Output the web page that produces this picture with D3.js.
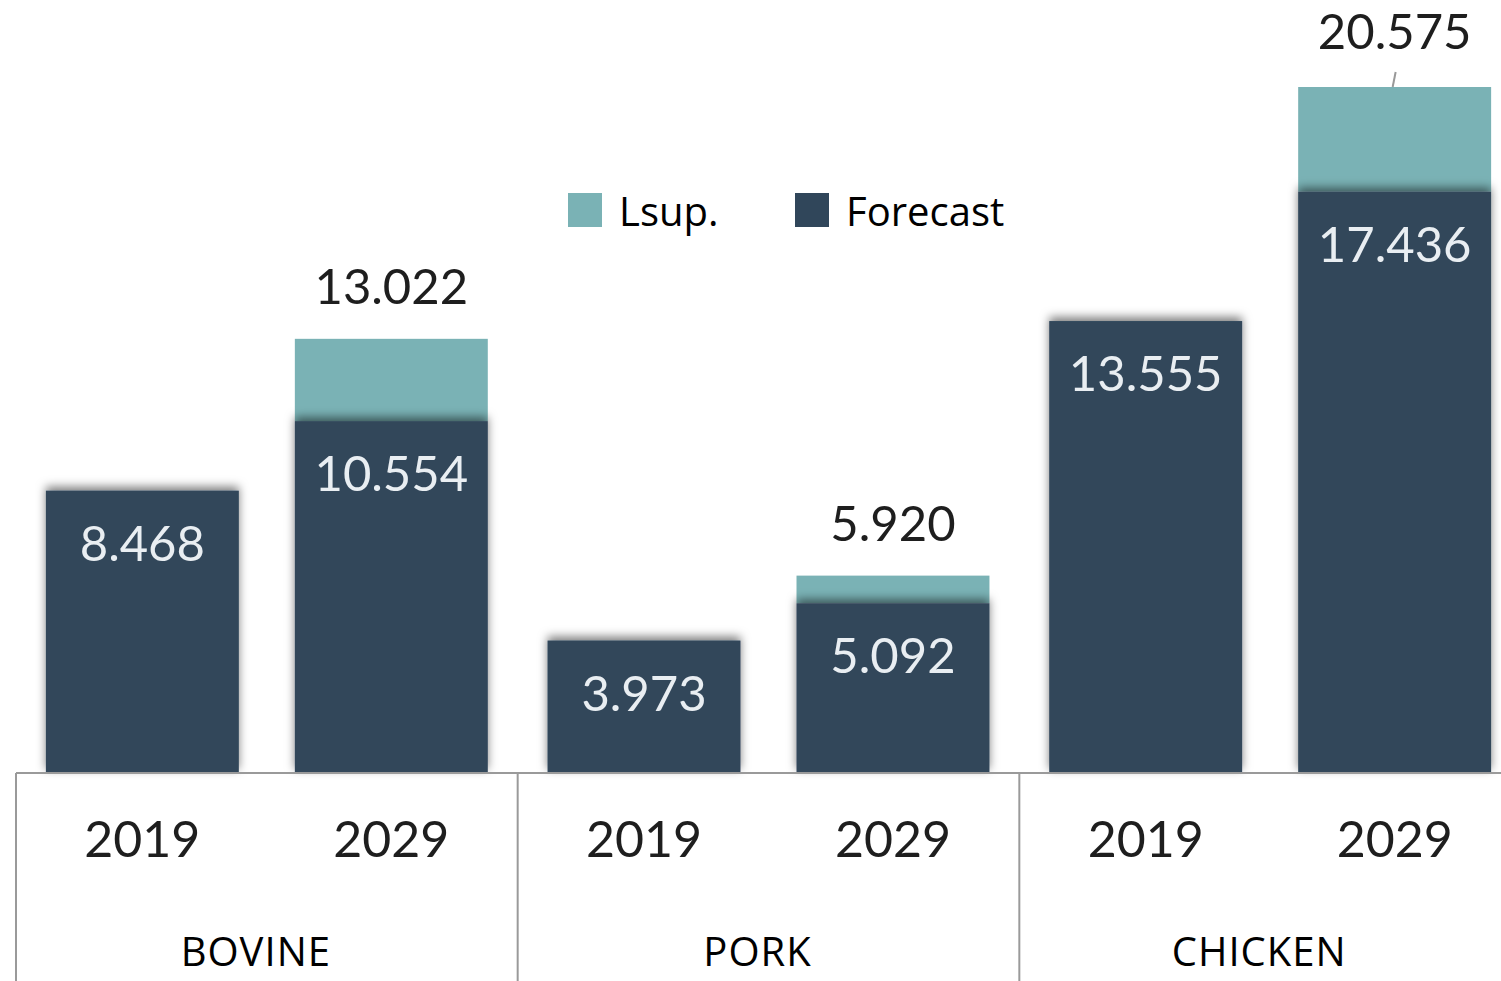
<!DOCTYPE html>
<html>
<head>
<meta charset="utf-8">
<script src="https://cdn.jsdelivr.net/npm/d3@7"></script>
<style>
body { margin: 0; background: #fff; }
svg { display: block; }
</style>
</head>
<body>
<svg id="chart" width="1501" height="981"></svg>
<script>
// data
var categories = ["BOVINE", "PORK", "CHICKEN"];
var years = ["2019", "2029"];
var forecast = [[8.468, 10.554], [3.973, 5.092], [13.555, 17.436]];
var totals = [[null, 13.022], [null, 5.920], [null, 20.575]];

var darkColor = "#30465a";
var tealColor = "#7ab2b5";

var svg = d3.select("#chart");

// shadow that the dark bars throw upwards
var defs = svg.append("defs");
var shadow = defs.append("filter")
  .attr("id", "shadow")
  .attr("x", "-20%").attr("y", "-20%")
  .attr("width", "140%").attr("height", "140%");
shadow.append("feDropShadow")
  .attr("dx", 0).attr("dy", -4)
  .attr("stdDeviation", 5)
  .attr("flood-color", "#000")
  .attr("flood-opacity", 0.5);

var baseY = 773;
var y = d3.scaleLinear()
  .domain([0, 20.575])
  .range([baseY, 87]);

var xGroup = d3.scaleBand()
  .domain(categories)
  .range([16, 1521]);

var xYear = d3.scaleBand()
  .domain(years)
  .range([0, xGroup.bandwidth()])
  .paddingInner(0.225)
  .paddingOuter(0.12);

// flatten into rows
var rows = [];
categories.forEach(function (c, i) {
  years.forEach(function (yr, j) {
    rows.push({
      cat: c, year: yr,
      forecast: forecast[i][j],
      total: totals[i][j]
    });
  });
});

function barX(d) { return xGroup(d.cat) + xYear(d.year); }
function barMid(d) { return barX(d) + xYear.bandwidth() / 2; }

var valueFont = "Lato, 'Noto Sans', sans-serif";
var labelFont = "'Open Sans', 'Noto Sans', sans-serif";

// teal (Lsup.) part on top
svg.selectAll(".lsup")
  .data(rows.filter(function (d) { return d.total; }))
  .enter().append("rect")
  .attr("class", "lsup")
  .attr("x", barX)
  .attr("width", xYear.bandwidth())
  .attr("y", function (d) { return y(d.total); })
  .attr("height", function (d) { return y(d.forecast) - y(d.total); })
  .attr("fill", tealColor);

// dark forecast bars
svg.selectAll(".fc")
  .data(rows)
  .enter().append("rect")
  .attr("class", "fc")
  .attr("x", barX)
  .attr("width", xYear.bandwidth())
  .attr("y", function (d) { return y(d.forecast); })
  .attr("height", function (d) { return baseY - y(d.forecast); })
  .attr("fill", darkColor)
  .attr("filter", "url(#shadow)");

// value inside dark bar
svg.selectAll(".fcLabel")
  .data(rows)
  .enter().append("text")
  .attr("class", "fcLabel")
  .text(function (d) { return d3.format(".3f")(d.forecast); })
  .attr("x", barMid)
  .attr("y", function (d) { return y(d.forecast) + 70; })
  .attr("text-anchor", "middle")
  .attr("font-family", valueFont)
  .attr("font-size", 49)
  .attr("fill", "#e9eef2");

// total above
svg.selectAll(".totLabel")
  .data(rows.filter(function (d) { return d.total; }))
  .enter().append("text")
  .attr("class", "totLabel")
  .text(function (d) { return d3.format(".3f")(d.total); })
  .attr("x", barMid)
  .attr("y", function (d) { return y(d.total) - (d.total > 20 ? 38 : 35); })
  .attr("text-anchor", "middle")
  .attr("font-family", valueFont)
  .attr("font-size", 49)
  .attr("fill", "#1e1e1e");

// little leader line for the tallest label
rows.filter(function (d) { return d.total > 20; }).forEach(function (d) {
  svg.append("line")
    .attr("x1", barMid(d) - 2).attr("y1", y(d.total))
    .attr("x2", barMid(d) + 1).attr("y2", y(d.total) - 15)
    .style("stroke", "#999")
    .style("stroke-width", 2);
});

// axis line and group separators
svg.append("line")
  .attr("x1", 16).attr("y1", baseY)
  .attr("x2", 1501).attr("y2", baseY)
  .style("stroke", "#9a9a9a")
  .style("stroke-width", 2);

categories.forEach(function (c) {
  svg.append("line")
    .attr("x1", xGroup(c)).attr("y1", baseY)
    .attr("x2", xGroup(c)).attr("y2", 981)
    .style("stroke", "#9a9a9a")
    .style("stroke-width", 2);
});

// year labels
svg.selectAll(".yearLabel")
  .data(rows)
  .enter().append("text")
  .attr("class", "yearLabel")
  .text(function (d) { return d.year; })
  .attr("x", barMid)
  .attr("y", 857)
  .attr("text-anchor", "middle")
  .attr("font-family", valueFont)
  .attr("font-size", 50)
  .attr("fill", "#1e1e1e");

// category labels
svg.selectAll(".catLabel")
  .data(categories)
  .enter().append("text")
  .attr("class", "catLabel")
  .text(function (d) { return d; })
  .attr("x", function (d) { return xGroup(d) + xGroup.bandwidth() / 2 - 11; })
  .attr("y", 966)
  .attr("text-anchor", "middle")
  .attr("font-family", labelFont)
  .attr("font-size", 40)
  .attr("letter-spacing", 1)
  .attr("fill", "#000");

// legend
var legendItems = [
  { name: "Lsup.", color: tealColor, x: 568 },
  { name: "Forecast", color: darkColor, x: 795 }
];
legendItems.forEach(function (it) {
  svg.append("rect")
    .attr("x", it.x).attr("y", 193)
    .attr("width", 34).attr("height", 34)
    .attr("fill", it.color);
  svg.append("text")
    .text(it.name)
    .attr("x", it.x + 51)
    .attr("y", 226)
    .attr("font-family", labelFont)
    .attr("font-size", 40)
    .attr("fill", "#000");
});
</script>
</body>
</html>
